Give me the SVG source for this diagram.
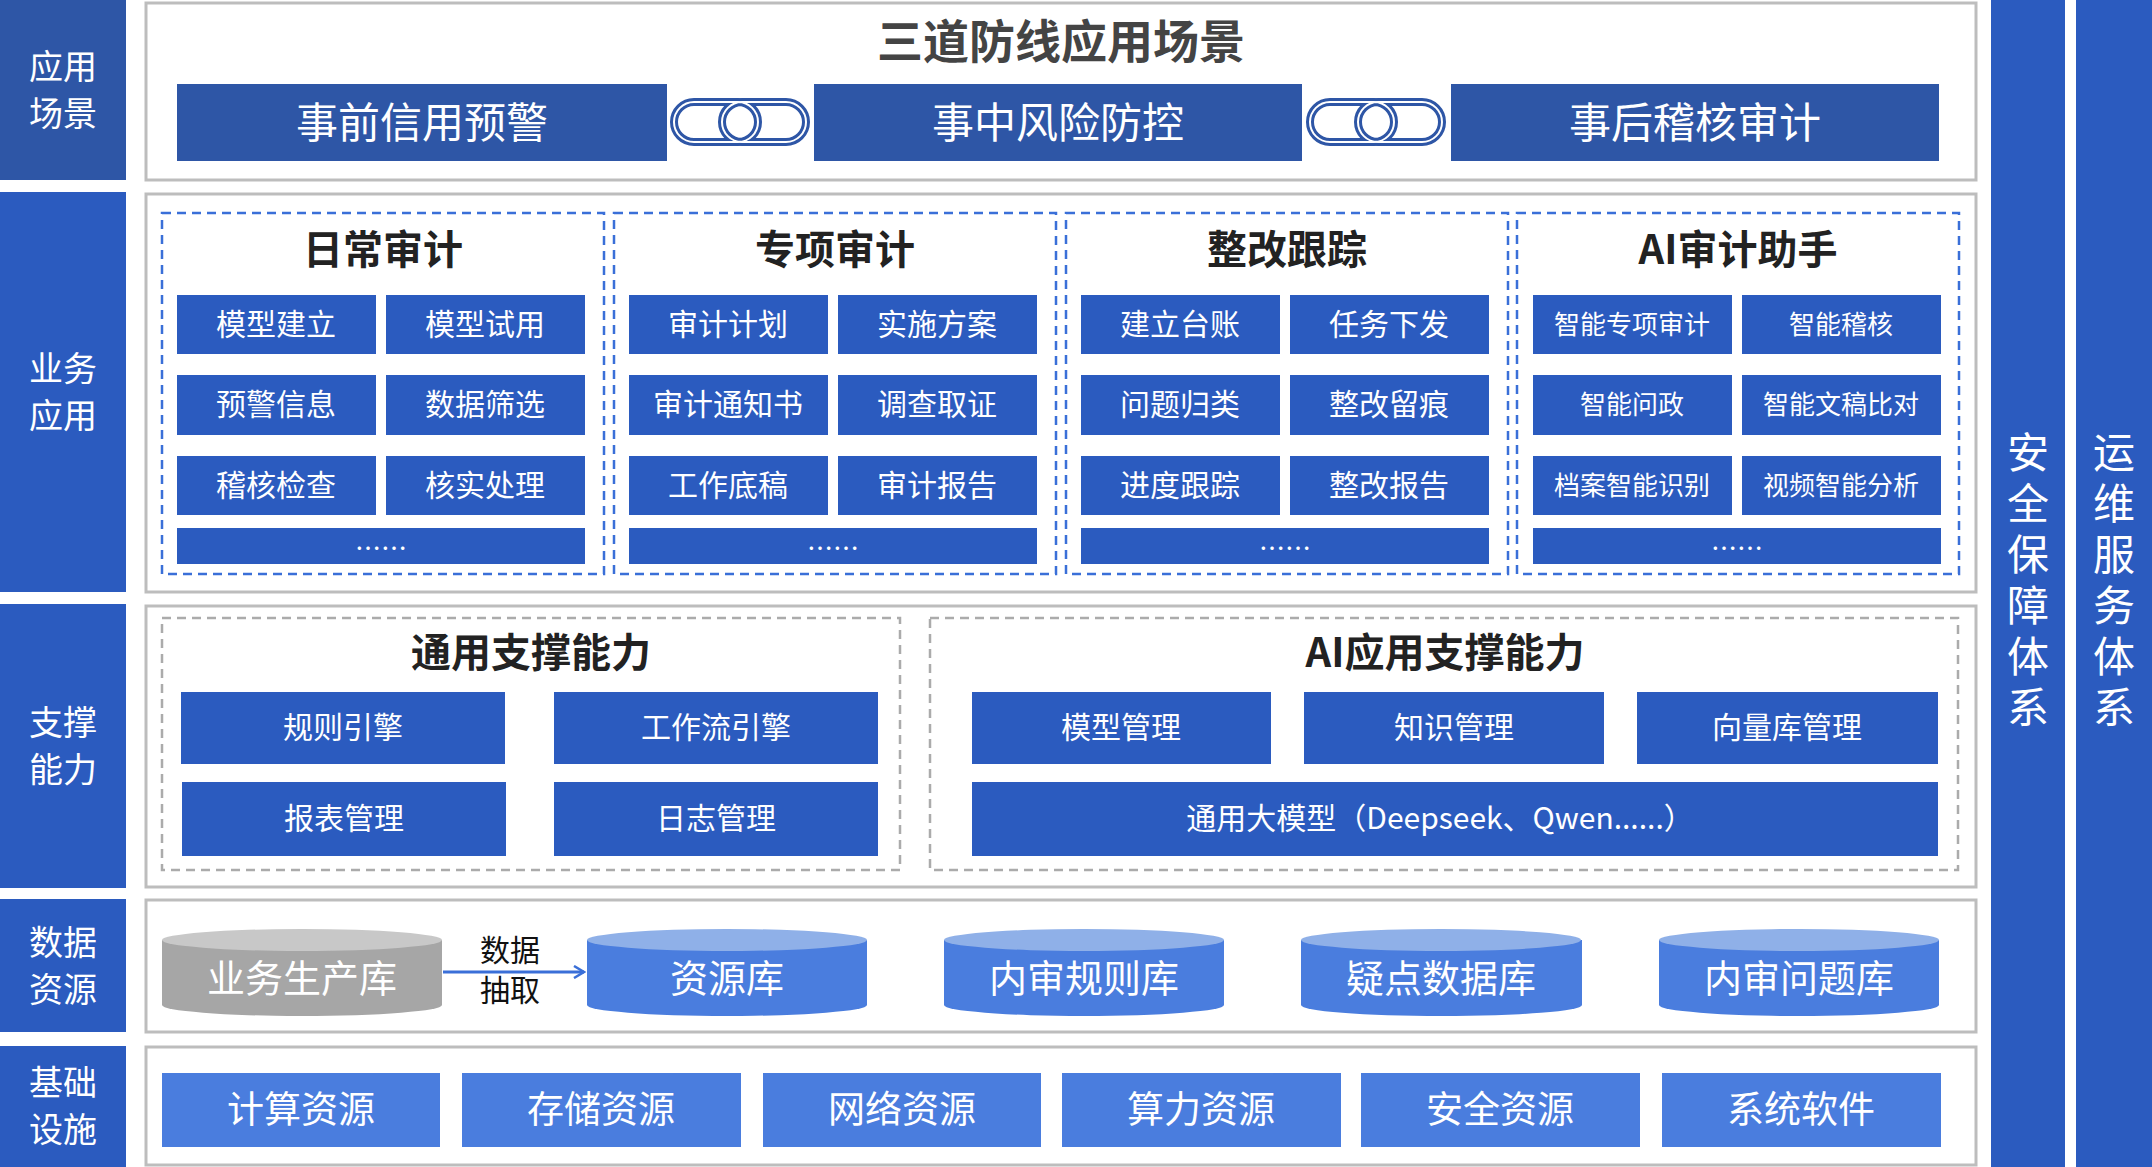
<svg xmlns="http://www.w3.org/2000/svg" width="2152" height="1167" viewBox="0 0 2152 1167">
<style>
text{font-family:"Noto Sans CJK SC","Liberation Sans",sans-serif;text-anchor:middle;dominant-baseline:central;transform:translateY(-3px)}
.side{fill:#2B5BBF}.sidet{fill:#fff;font-size:34px}
.panel{fill:#fff;stroke:#BDBDBD;stroke-width:3}
.top{fill:#2E56A6}.topt{fill:#fff;font-size:42px}
.grp{fill:none;stroke:#3A6FD8;stroke-width:2.5;stroke-dasharray:9 6}
.ggrp{fill:none;stroke:#ABABAB;stroke-width:2.5;stroke-dasharray:9 6}
.cell{fill:#2B5BBF}.ct{fill:#fff;font-size:30px}.cs{fill:#fff;font-size:26px}
.h{fill:#222;font-size:40px;font-weight:bold}
.lt{fill:#4A7DDE}.ltop{fill:#8FB0E8}
.vt{fill:#fff;font-size:42px;writing-mode:vertical-rl;text-anchor:start;letter-spacing:9px;transform:none}
</style>
<defs>
<marker id="ar" markerWidth="14" markerHeight="14" refX="12" refY="7" orient="auto" markerUnits="userSpaceOnUse"><path d="M2,1 L12,7 L2,13" fill="none" stroke="#3A6FD8" stroke-width="2.5"/></marker>
<g id="chain"><rect x="-66" y="-20" width="84" height="40" rx="20" fill="none" stroke="#2E56A6" stroke-width="8"/><rect x="-18" y="-20" width="84" height="40" rx="20" fill="none" stroke="#2E56A6" stroke-width="8"/><rect x="-66" y="-20" width="84" height="40" rx="20" fill="none" stroke="#fff" stroke-width="2"/><rect x="-18" y="-20" width="84" height="40" rx="20" fill="none" stroke="#fff" stroke-width="2"/></g>
</defs>
<rect width="2152" height="1167" fill="#fff"/>
<g id="l1"><rect x="0" y="0" width="126" height="180" fill="#2E56A6"/><text class="sidet"><tspan x="63" y="67">应用</tspan><tspan x="63" y="114">场景</tspan></text></g>
<g id="l2"><rect class="side" x="0" y="192" width="126" height="400"/><text class="sidet"><tspan x="63" y="369">业务</tspan><tspan x="63" y="416">应用</tspan></text></g>
<g id="l3"><rect class="side" x="0" y="604" width="126" height="284"/><text class="sidet"><tspan x="63" y="723">支撑</tspan><tspan x="63" y="770">能力</tspan></text></g>
<g id="l4"><rect class="side" x="0" y="899" width="126" height="133"/><text class="sidet"><tspan x="63" y="943">数据</tspan><tspan x="63" y="990">资源</tspan></text></g>
<g id="l5"><rect class="side" x="0" y="1046" width="126" height="121"/><text class="sidet"><tspan x="63" y="1083">基础</tspan><tspan x="63" y="1130">设施</tspan></text></g>
<g id="r1"><rect class="side" x="1991" y="0" width="74" height="1167"/><text class="vt" x="2028" y="431">安全保障体系</text></g>
<g id="r2"><rect class="side" x="2076" y="0" width="76" height="1167"/><text class="vt" x="2114" y="431">运维服务体系</text></g>
<rect class="panel" x="146" y="3" width="1830" height="177"/>
<rect class="panel" x="146" y="194" width="1830" height="398"/>
<rect class="panel" x="146" y="606" width="1830" height="281"/>
<rect class="panel" x="146" y="900" width="1830" height="132"/>
<rect class="panel" x="146" y="1047" width="1830" height="118"/>
<g id="scene">
<text x="1061" y="41" font-size="46" font-weight="bold" fill="#444">三道防线应用场景</text>
<g id="s1"><rect class="top" x="177" y="84" width="490" height="77"/><text class="topt" x="422" y="122">事前信用预警</text></g>
<g id="s2"><rect class="top" x="814" y="84" width="488" height="77"/><text class="topt" x="1058" y="122">事中风险防控</text></g>
<g id="s3"><rect class="top" x="1451" y="84" width="488" height="77"/><text class="topt" x="1695" y="122">事后稽核审计</text></g>
<use href="#chain" x="740" y="122"/><use href="#chain" x="1376" y="122"/>
</g>
<g id="g1"><rect class="grp" x="162" y="213" width="442" height="361"/><text class="h" x="383" y="250">日常审计</text>
<rect class="cell" x="177" y="295" width="199" height="59"/><text class="ct" x="276" y="325">模型建立</text>
<rect class="cell" x="386" y="295" width="199" height="59"/><text class="ct" x="485" y="325">模型试用</text>
<rect class="cell" x="177" y="375" width="199" height="60"/><text class="ct" x="276" y="405">预警信息</text>
<rect class="cell" x="386" y="375" width="199" height="60"/><text class="ct" x="485" y="405">数据筛选</text>
<rect class="cell" x="177" y="456" width="199" height="59"/><text class="ct" x="276" y="486">稽核检查</text>
<rect class="cell" x="386" y="456" width="199" height="59"/><text class="ct" x="485" y="486">核实处理</text>
<rect class="cell" x="177" y="528" width="408" height="36"/><text class="cs" x="381" y="549" font-size="20">……</text></g>
<g id="g2"><rect class="grp" x="614" y="213" width="442" height="361"/><text class="h" x="835" y="250">专项审计</text>
<rect class="cell" x="629" y="295" width="199" height="59"/><text class="ct" x="728" y="325">审计计划</text>
<rect class="cell" x="838" y="295" width="199" height="59"/><text class="ct" x="937" y="325">实施方案</text>
<rect class="cell" x="629" y="375" width="199" height="60"/><text class="ct" x="728" y="405">审计通知书</text>
<rect class="cell" x="838" y="375" width="199" height="60"/><text class="ct" x="937" y="405">调查取证</text>
<rect class="cell" x="629" y="456" width="199" height="59"/><text class="ct" x="728" y="486">工作底稿</text>
<rect class="cell" x="838" y="456" width="199" height="59"/><text class="ct" x="937" y="486">审计报告</text>
<rect class="cell" x="629" y="528" width="408" height="36"/><text class="cs" x="833" y="549" font-size="20">……</text></g>
<g id="g3"><rect class="grp" x="1066" y="213" width="442" height="361"/><text class="h" x="1287" y="250">整改跟踪</text>
<rect class="cell" x="1081" y="295" width="199" height="59"/><text class="ct" x="1180" y="325">建立台账</text>
<rect class="cell" x="1290" y="295" width="199" height="59"/><text class="ct" x="1389" y="325">任务下发</text>
<rect class="cell" x="1081" y="375" width="199" height="60"/><text class="ct" x="1180" y="405">问题归类</text>
<rect class="cell" x="1290" y="375" width="199" height="60"/><text class="ct" x="1389" y="405">整改留痕</text>
<rect class="cell" x="1081" y="456" width="199" height="59"/><text class="ct" x="1180" y="486">进度跟踪</text>
<rect class="cell" x="1290" y="456" width="199" height="59"/><text class="ct" x="1389" y="486">整改报告</text>
<rect class="cell" x="1081" y="528" width="408" height="36"/><text class="cs" x="1285" y="549" font-size="20">……</text></g>
<g id="g4"><rect class="grp" x="1517" y="213" width="442" height="361"/><text class="h" x="1738" y="250">AI审计助手</text>
<rect class="cell" x="1533" y="295" width="199" height="59"/><text class="cs" x="1632" y="325">智能专项审计</text>
<rect class="cell" x="1742" y="295" width="199" height="59"/><text class="cs" x="1841" y="325">智能稽核</text>
<rect class="cell" x="1533" y="375" width="199" height="60"/><text class="cs" x="1632" y="405">智能问政</text>
<rect class="cell" x="1742" y="375" width="199" height="60"/><text class="cs" x="1841" y="405">智能文稿比对</text>
<rect class="cell" x="1533" y="456" width="199" height="59"/><text class="cs" x="1632" y="486">档案智能识别</text>
<rect class="cell" x="1742" y="456" width="199" height="59"/><text class="cs" x="1841" y="486">视频智能分析</text>
<rect class="cell" x="1533" y="528" width="408" height="36"/><text class="cs" x="1737" y="549" font-size="20">……</text></g>
<g id="gen"><rect class="ggrp" x="162" y="618" width="738" height="252"/><text class="h" x="531" y="653">通用支撑能力</text>
<rect class="cell" x="181" y="692" width="324" height="72"/><text class="ct" x="343" y="728">规则引擎</text>
<rect class="cell" x="554" y="692" width="324" height="72"/><text class="ct" x="716" y="728">工作流引擎</text>
<rect class="cell" x="182" y="782" width="324" height="74"/><text class="ct" x="344" y="819">报表管理</text>
<rect class="cell" x="554" y="782" width="324" height="74"/><text class="ct" x="716" y="819">日志管理</text></g>
<g id="ai"><rect class="ggrp" x="930" y="618" width="1028" height="252"/><text class="h" x="1445" y="653">AI应用支撑能力</text>
<rect class="cell" x="972" y="692" width="299" height="72"/><text class="ct" x="1121" y="728">模型管理</text>
<rect class="cell" x="1304" y="692" width="300" height="72"/><text class="ct" x="1454" y="728">知识管理</text>
<rect class="cell" x="1637" y="692" width="301" height="72"/><text class="ct" x="1787" y="728">向量库管理</text>
<rect class="cell" x="972" y="782" width="966" height="74"/><text class="ct" x="1440" y="819">通用大模型（Deepseek、Qwen......）</text></g>
<g id="db0"><path d="M162,940 V1005 A140,11 0 0 0 442,1005 V940 Z" fill="#A6A6A6"/><ellipse cx="302" cy="940" rx="140" ry="11" fill="#C8C8C8"/><text x="302" y="978" font-size="38" fill="#fff">业务生产库</text></g>
<g id="db1"><path d="M587,940 V1005 A140,11 0 0 0 867,1005 V940 Z" class="lt"/><ellipse cx="727" cy="940" rx="140" ry="11" class="ltop"/><text x="727" y="978" font-size="38" fill="#fff">资源库</text></g>
<g id="db2"><path d="M944,940 V1005 A140,11 0 0 0 1224,1005 V940 Z" class="lt"/><ellipse cx="1084" cy="940" rx="140" ry="11" class="ltop"/><text x="1084" y="978" font-size="38" fill="#fff">内审规则库</text></g>
<g id="db3"><path d="M1301,940 V1005 A140,11 0 0 0 1582,1005 V940 Z" class="lt"/><ellipse cx="1441" cy="940" rx="140" ry="11" class="ltop"/><text x="1441" y="978" font-size="38" fill="#fff">疑点数据库</text></g>
<g id="db4"><path d="M1659,940 V1005 A140,11 0 0 0 1939,1005 V940 Z" class="lt"/><ellipse cx="1799" cy="940" rx="140" ry="11" class="ltop"/><text x="1799" y="978" font-size="38" fill="#fff">内审问题库</text></g>
<g id="connectors"><line x1="443" y1="972" x2="584" y2="972" stroke="#3A6FD8" stroke-width="3" marker-end="url(#ar)"/>
<text font-size="30" fill="#111"><tspan x="510" y="951">数据</tspan><tspan x="510" y="991">抽取</tspan></text></g>
<g id="infra">
<rect class="lt" x="162" y="1073" width="278" height="74"/><text x="301" y="1110" font-size="37" fill="#fff">计算资源</text>
<rect class="lt" x="462" y="1073" width="279" height="74"/><text x="601" y="1110" font-size="37" fill="#fff">存储资源</text>
<rect class="lt" x="763" y="1073" width="278" height="74"/><text x="902" y="1110" font-size="37" fill="#fff">网络资源</text>
<rect class="lt" x="1062" y="1073" width="279" height="74"/><text x="1201" y="1110" font-size="37" fill="#fff">算力资源</text>
<rect class="lt" x="1361" y="1073" width="279" height="74"/><text x="1500" y="1110" font-size="37" fill="#fff">安全资源</text>
<rect class="lt" x="1662" y="1073" width="279" height="74"/><text x="1801" y="1110" font-size="37" fill="#fff">系统软件</text>
</g>
</svg>
